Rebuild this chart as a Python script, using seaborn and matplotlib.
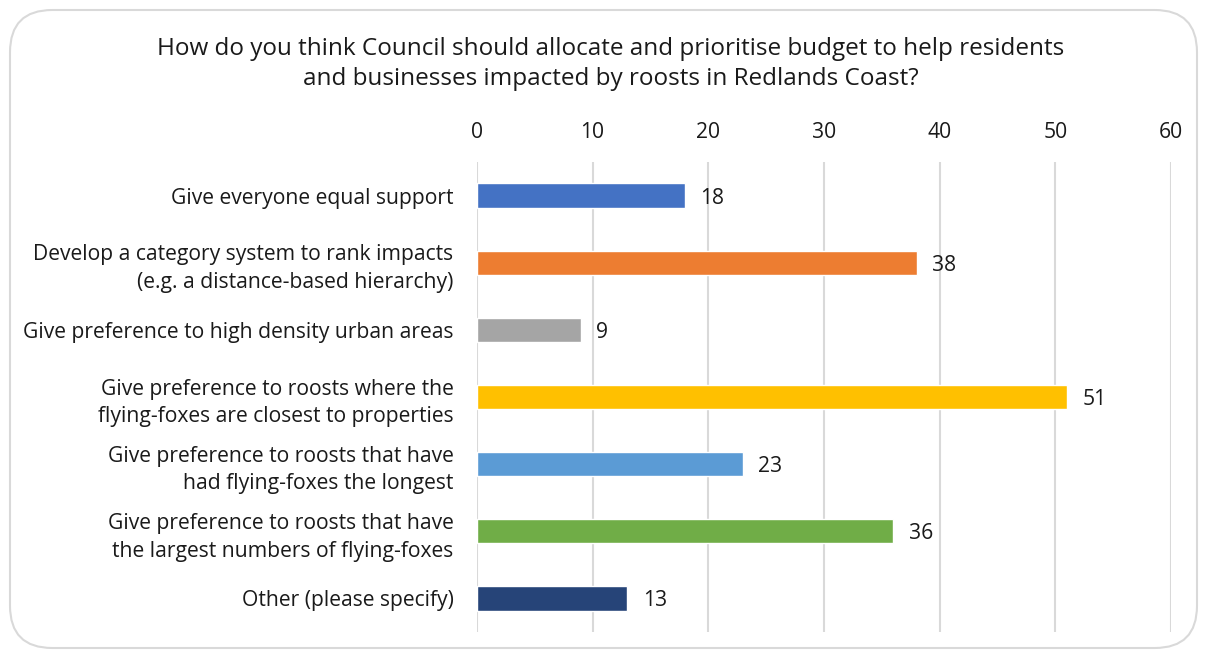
import matplotlib
matplotlib.use("Agg")
import matplotlib.pyplot as plt
from matplotlib.patches import FancyBboxPatch
import seaborn as sns
import pandas as pd

categories = [
    "Give everyone equal support",
    "Develop a category system to rank impacts\n(e.g. a distance-based hierarchy)",
    "Give preference to high density urban areas",
    "Give preference to roosts where the\nflying-foxes are closest to properties",
    "Give preference to roosts that have\nhad flying-foxes the longest",
    "Give preference to roosts that have\nthe largest numbers of flying-foxes",
    "Other (please specify)",
]
values = [18, 38, 9, 51, 23, 36, 13]
colors = ["#4472C4", "#ED7D31", "#A5A5A5", "#FFC000", "#5B9BD5", "#70AD47", "#264478"]
x_ticks = [0, 10, 20, 30, 40, 50, 60]
title = ("How do you think Council should allocate and prioritise budget to help residents\n"
         "and businesses impacted by roosts in Redlands Coast?")

sns.set_theme(style="white")
plt.rcParams["font.family"] = ["Open Sans", "DejaVu Sans"]

df = pd.DataFrame({"category": categories, "value": values})

fig = plt.figure(figsize=(12.08, 6.57), dpi=100)
fig.patch.set_facecolor("white")

# rounded chart-area border
border = FancyBboxPatch((10 / 1208, 9 / 657), 1187 / 1208, 638 / 657,
                        boxstyle="round,pad=0,rounding_size=0.035",
                        transform=fig.transFigure, facecolor="none",
                        edgecolor="#d9d9d9", linewidth=1.5,
                        mutation_aspect=1208 / 657, zorder=-1)
fig.patches.append(border)

ax = fig.add_axes([477 / 1208, 1 - 632 / 657, 694 / 1208, 470 / 657])
ax.set_facecolor("none")

sns.barplot(data=df, x="value", y="category", hue="category", palette=colors,
            orient="h", width=0.36, legend=False, ax=ax, saturation=1)

label_size = 15.2
ax.set_xlim(0, 60)
ax.set_ylim(6.5, -0.5)
ax.set_xticks(x_ticks)
ax.xaxis.tick_top()
ax.tick_params(axis="x", length=0, pad=14, labelsize=label_size, colors="#1a1a1a")
ax.tick_params(axis="y", length=0, pad=17, labelsize=label_size, colors="#1a1a1a")
ax.set_xlabel("")
ax.set_ylabel("")
for lbl in ax.get_yticklabels():
    lbl.set_horizontalalignment("right")
    lbl.set_multialignment("right")
    lbl.set_linespacing(1.42)
for s in ax.spines.values():
    s.set_visible(False)
ax.grid(axis="x", color="#d9d9d9", linewidth=1.5)
ax.set_axisbelow(True)

for i, v in enumerate(values):
    ax.annotate(str(v), xy=(v, i), xytext=(11, 0), textcoords="offset points",
                va="center_baseline", ha="left", fontsize=label_size, color="#1a1a1a")

fig.text(611 / 1208, 1 - 64 / 657, title, ha="center", va="center",
         fontsize=17.5, color="#1a1a1a", linespacing=1.35)

fig.savefig("out.png", dpi=100)
